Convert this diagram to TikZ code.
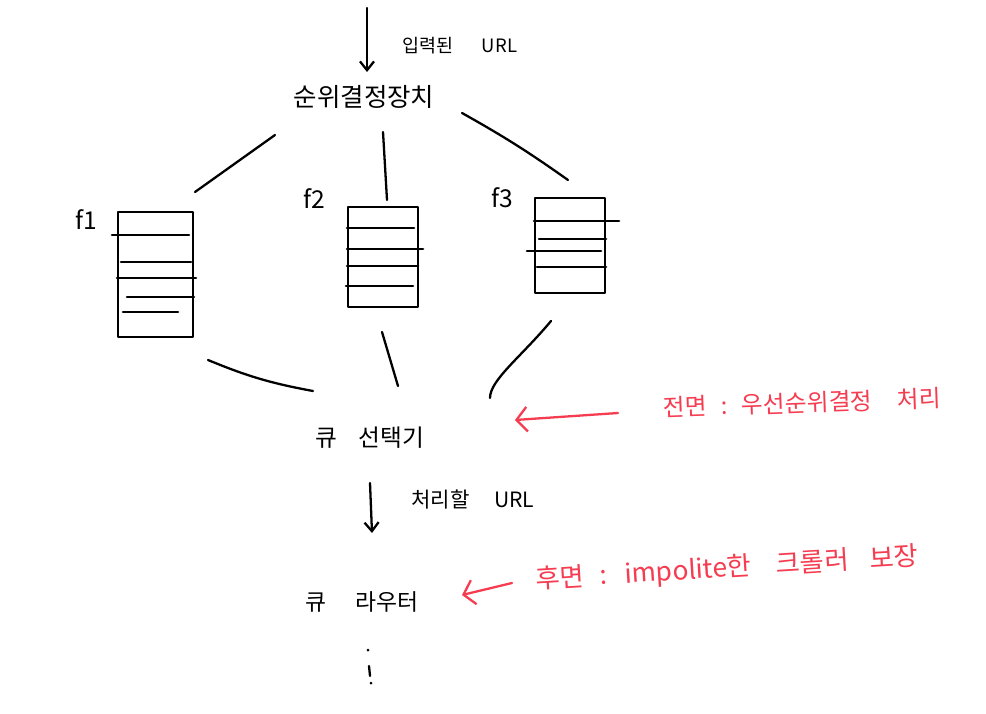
\documentclass[tikz,border=0pt]{standalone}
\usepackage{fontspec}
\setmainfont{Noto Sans CJK KR}
\usepackage{tikz}
\usetikzlibrary{arrows.meta}
\usetikzlibrary{calc}
\definecolor{memored}{RGB}{245,60,80}
\tikzset{
  sketch/.style={line width=1.3pt, line cap=round, line join=round},
  queue/.style={draw, sketch, inner sep=0pt},
  hand/.style={inner sep=0pt, font=\fontsize{#1}{#1}\selectfont},
  memo/.style={hand=#1, text=memored},
  downarrow/.style={sketch, -{Straight Barb[length=5pt,width=8pt]}},
  memoarrow/.style={sketch, draw=memored, -{Straight Barb[length=6pt,width=14pt]}}
}

\begin{document}
\begin{tikzpicture}[x=0.02cm, y=-0.02cm]
\fill[white] (0,0) rectangle (986,713);
\useasboundingbox (0,0) rectangle (986,713);

\coordinate (input) at (367,8);
\node[hand=14.5] (sorter) at (364,97) {순위결정장치};
\node[hand=10.5] (inlabel) at (460,46) {입력된\hspace{16pt}URL};

\node[queue, minimum width=1.5cm, minimum height=2.5cm] (f1) at (155.5,274.5) {};
\node[queue, minimum width=1.4cm, minimum height=2cm] (f2) at (383,257) {};
\node[queue, minimum width=1.4cm, minimum height=1.9cm] (f3) at (570,245.5) {};
\node[hand=14] (f1name) at (86,220) {f1};
\node[hand=14] (f2name) at (314,199) {f2};
\node[hand=14] (f3name) at (502,198) {f3};

\foreach \d/\a/\b in {24/-5/-5, 51/4/-3, 67/0/2, 86/10/0, 101/6/-16}
  \draw[sketch] ($(f1.north west)+(\a,\d)$) -- ($(f1.north east)+(\b,\d)$);
\foreach \d/\a/\b in {22/0/-5, 43/0/4, 60/0/-1, 80/-1/-6}
  \draw[sketch] ($(f2.north west)+(\a,\d)$) -- ($(f2.north east)+(\b,\d)$);
\foreach \d/\a/\b in {24/0/13, 42/5/0, 54/-7/-5, 70/3/0}
  \draw[sketch] ($(f3.north west)+(\a,\d)$) -- ($(f3.north east)+(\b,\d)$);

\node[hand=13.5] (selector) at (370,438) {큐\hspace{12pt}선택기};
\node[hand=12] (todo) at (473,500) {처리할\hspace{14pt}URL};
\node[hand=13] (router) at (362,602) {큐\hspace{17pt}라우터};
\coordinate (more) at (369,666);

\node[memo=13.5, rotate=2] (front) at (802,403) {전면\hspace{8pt}:\hspace{8pt}우선순위결정\hspace{14pt}처리};
\node[memo=15, rotate=3.5] (back) at (727,569) {후면\hspace{9pt}:\hspace{10pt}impolite한\hspace{14pt}크롤러\hspace{12pt}보장};

\draw[downarrow] (input) -- ($(sorter)+(3,-25)$);
\draw[sketch] ($(sorter)+(-89,38)$) -- ($(f1)+(39.5,-82.5)$);
\draw[sketch] ($(sorter)+(19,35)$) -- ($(f2)+(4,-57)$);
\draw[sketch] ($(sorter)+(98,16)$) to[bend left=3] ($(f3)+(-2,-65.5)$);

\draw[sketch] ($(f1)+(52.5,85.5)$) to[bend right=6] ($(selector)+(-57,-47)$);
\draw[sketch] ($(f2)+(-1,75)$) -- ($(selector)+(28,-52)$);
\draw[sketch] ($(f3)+(-19,75.5)$) .. controls +(-30,36) and +(0,-18) .. ($(selector)+(120,-40)$);

\draw[downarrow] ($(selector)+(0,45)$) -- ($(router)+(10,-69)$);
\draw[memoarrow] ($(front)+(-184,10)$) -- ($(selector)+(145,-18)$);
\draw[memoarrow] ($(back)+(-215,14)$) -- ($(router)+(100,-7)$);

\fill ($(more)+(-1,-16)$) circle (1.5);
\draw[sketch] ($(more)+(0,0)$) -- ($(more)+(1,10)$);
\fill ($(more)+(2,17)$) circle (1.5);
\end{tikzpicture}
\end{document}
